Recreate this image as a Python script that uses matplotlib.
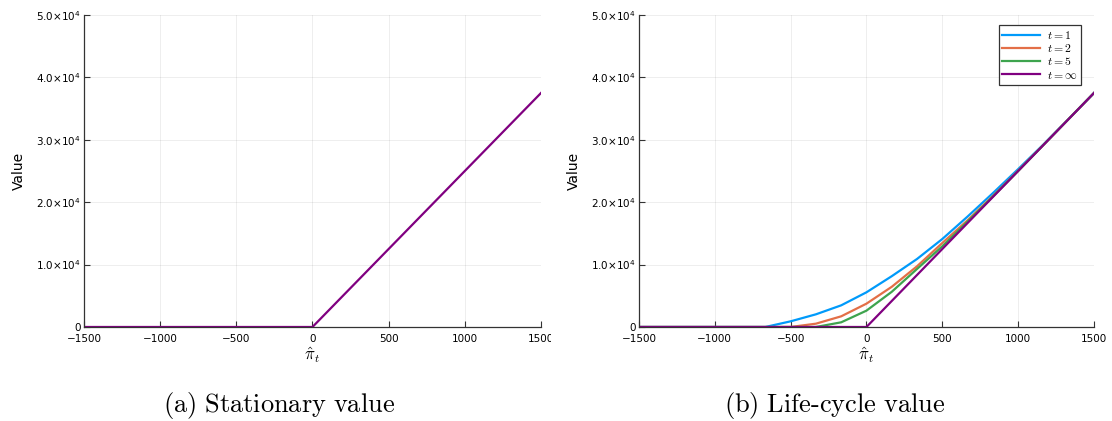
import matplotlib
matplotlib.use("Agg")
import matplotlib.pyplot as plt
import numpy as np
from matplotlib.transforms import Bbox, TransformedBbox

# grid of profit values (19 points, step 1500/9)
pi_hat = np.linspace(-1500, 1500, 19)

# stationary value
stationary = [0, 0, 0, 0, 0, 0, 0, 0, 0, 0,
              4167, 8333, 12500, 16667, 20833, 25000, 29167, 33333, 37500]

# life-cycle value by horizon
v_t1 = [0, 0, 0, 0, 0, 0, 908, 2030, 3470, 5560, 8140, 10900, 14100,
        17700, 21450, 25300, 29250, 33350, 37500]
v_t2 = [0, 0, 0, 0, 0, 0, 0, 530, 1710, 3740, 6440, 9730, 13460,
        17100, 21000, 25050, 29180, 33340, 37500]
v_t5 = [0, 0, 0, 0, 0, 0, 0, 0, 750, 2620, 5640, 9300, 12930,
        16900, 20900, 25000, 29170, 33335, 37500]
v_inf = stationary

labels = [r"$t = 1$", r"$t = 2$", r"$t = 5$", r"$t = \infty$"]
colors = ["#009AFA", "#E36F47", "#3EA44E", "#800080"]

yticks = [0, 1e4, 2e4, 3e4, 4e4, 5e4]
ytick_labels = ["0", r"$1.0{\times}10^{4}$", r"$2.0{\times}10^{4}$",
                r"$3.0{\times}10^{4}$", r"$4.0{\times}10^{4}$", r"$5.0{\times}10^{4}$"]
xticks = [-1500, -1000, -500, 0, 500, 1000, 1500]
xtick_labels = ["\u22121500", "\u22121000", "\u2212500", "0", "500", "1000", "1500"]

fig = plt.figure(figsize=(11.12, 4.21), dpi=100)
ax1 = fig.add_axes([0.0755, 0.2233, 0.411, 0.7411])
ax2 = fig.add_axes([0.5746, 0.2233, 0.4092, 0.7411])


def style(ax, clip_right):
    ax.set_xlim(-1500, 1500)
    ax.set_ylim(0, 5e4)
    ax.set_xticks(xticks)
    ax.set_xticklabels(xtick_labels, fontsize=7.5)
    ax.set_yticks(yticks)
    ax.set_yticklabels(ytick_labels, fontsize=7.5)
    for t in ax.get_yticklabels():
        t.set_math_fontfamily("dejavusans")
    ax.tick_params(direction="in", length=4, width=0.8, color="#333333", pad=2)
    ax.tick_params(axis="x", pad=5)
    for s in ["top", "right"]:
        ax.spines[s].set_visible(False)
    for s in ["left", "bottom"]:
        ax.spines[s].set_color("#333333")
        ax.spines[s].set_linewidth(0.9)
    ax.grid(True, color="black", alpha=0.08, linewidth=0.6)
    ax.set_axisbelow(True)
    ax.set_xlabel(r"$\hat{\pi}_t$", fontsize=12, labelpad=1, math_fontfamily="cm")
    ax.set_ylabel("Value", fontsize=10)
    ax.yaxis.set_label_coords(-0.128, 0.5)
    clip = TransformedBbox(Bbox([[0, 0], [clip_right, 1]]), fig.transFigure)
    for t in ax.get_xticklabels():
        t.set_clip_box(clip)
        t.set_clip_on(True)


# (a) stationary
ax1.plot(pi_hat, stationary, color="#800080", lw=1.6)
style(ax1, 551 / 1112)

# (b) life-cycle
for vals, c, lab in zip([v_t1, v_t2, v_t5, v_inf], colors, labels):
    ax2.plot(pi_hat, vals, color=c, lw=1.6, label=lab)
style(ax2, 1107 / 1112)
leg = ax2.legend(loc="upper right", bbox_to_anchor=(0.985, 0.986), fontsize=8.5,
                 fancybox=False, framealpha=1, edgecolor="#333333",
                 handlelength=3.2, handletextpad=0.6, borderpad=0.3,
                 labelspacing=0.02)
leg.get_frame().set_linewidth(0.9)
for t in leg.get_texts():
    t.set_math_fontfamily("cm")

fig.text(0.2513, 0.038, r"$\mathrm{(a)\ Stationary\ value}$", ha="center",
         va="center", fontsize=19, math_fontfamily="cm")
fig.text(0.7504, 0.038, r"$\mathrm{(b)\ Life\text{-}cycle\ value}$", ha="center",
         va="center", fontsize=19, math_fontfamily="cm")

fig.savefig("out.png", dpi=100)
